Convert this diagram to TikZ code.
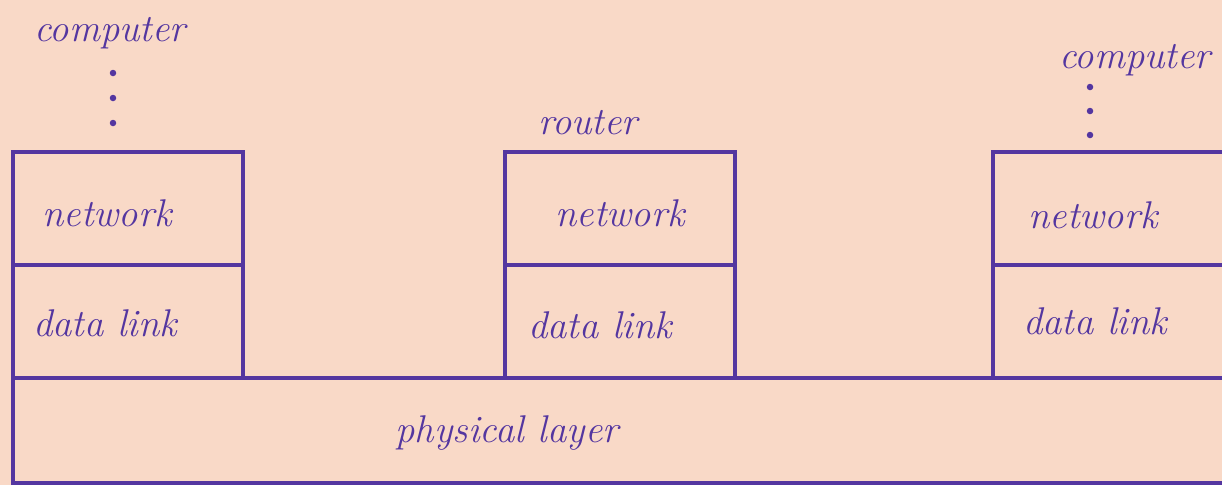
\documentclass[tikz,border=0pt]{standalone}
\usepackage{xcolor}
\usepackage{tikz}
\usetikzlibrary{positioning,calc}

\definecolor{paper}{HTML}{F9D9C7}
\definecolor{ink}{HTML}{5436A0}

\begin{document}
\begin{tikzpicture}[
  x=0.02cm, y=-0.02cm,
  layer/.style={draw=ink,line width=1.9pt,rectangle,anchor=north west,inner sep=0pt,outer sep=0pt,
    minimum width=4.6cm,minimum height=2.26cm},
  phys/.style={draw=ink,line width=1.9pt,rectangle,anchor=north west,inner sep=0pt,outer sep=0pt,
    minimum width=24.6cm,minimum height=2.1cm},
  hand/.style={text=ink,font=\fontsize{22}{26}\selectfont\itshape,inner sep=0pt},
  dot/.style={circle,fill=ink,inner sep=0pt,minimum size=0.13cm}
]

\def\ytop{152}
\def\ymid{265}
\def\ylow{378}

% paper
\fill[paper] (0,0) rectangle (1222,485);
\useasboundingbox (0,0) rectangle (1222,485);

% stacks
\node[layer] (netA)  at (13,\ytop)  {};
\node[layer] (linkA) at (13,\ymid)  {};
\node[layer] (netR)  at (505,\ytop) {};
\node[layer] (linkR) at (505,\ymid) {};
\node[layer,minimum width=4.9cm] (netB)  at (993,\ytop) {};
\node[layer,minimum width=4.9cm] (linkB) at (993,\ymid) {};

\node[phys] (physical) at (13,\ylow) {};

% labels
\node[hand] (lnetA)  at (107,213) {network};
\node[hand] (llinkA) at (105,323) {data link};
\node[hand] (lnetR)  at (620,213) {network};
\node[hand] (llinkR) at (600,325) {data link};
\node[hand] (lnetB)  at (1093,215) {network};
\node[hand] (llinkB) at (1095,321) {data link};
\node[hand] (lphys)  at (507,433) {physical layer};

\node[hand] (compA)  at (110,33)  {computer};
\node[hand] (router) at (588,123) {router};
\node[hand] (compB)  at (1135,60) {computer};

% dots
\foreach \y [count=\i] in {73,98,123}
  \node[dot] (dA\i) at (113,\y) {};
\foreach \y [count=\i] in {87,111,135}
  \node[dot] (dB\i) at (1090,\y) {};

\end{tikzpicture}
\end{document}
